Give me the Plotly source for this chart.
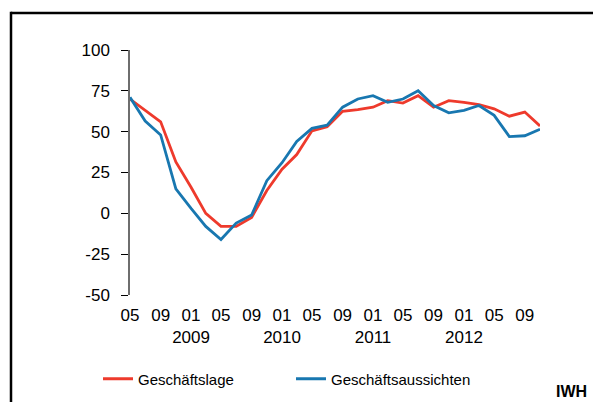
import plotly.graph_objects as go
import pandas as pd

# Data (bimonthly survey, May 2008 - Nov 2012)
months = ["2008-05-01", "2008-07-01", "2008-09-01", "2008-11-01",
          "2009-01-01", "2009-03-01", "2009-05-01", "2009-07-01", "2009-09-01", "2009-11-01",
          "2010-01-01", "2010-03-01", "2010-05-01", "2010-07-01", "2010-09-01", "2010-11-01",
          "2011-01-01", "2011-03-01", "2011-05-01", "2011-07-01", "2011-09-01", "2011-11-01",
          "2012-01-01", "2012-03-01", "2012-05-01", "2012-07-01", "2012-09-01", "2012-11-01"]
geschaeftslage = [70, 63, 56, 31.5, 16, 0, -8, -8, -2.5, 14,
                  27, 36, 50.5, 53, 62.5, 63.5, 65, 69, 67.5, 72,
                  65, 69, 68, 66.5, 64, 59.5, 62, 53.5]
geschaeftsaussichten = [71, 56.5, 48, 15, 3, -8, -16, -6, -1, 20,
                        31, 44, 52, 54, 65, 70, 72, 68, 70, 75,
                        66, 61.5, 63, 66, 60, 47, 47.5, 51.5]

tick_months = ["2008-05-01", "2008-09-01", "2009-01-01", "2009-05-01", "2009-09-01",
               "2010-01-01", "2010-05-01", "2010-09-01", "2011-01-01", "2011-05-01",
               "2011-09-01", "2012-01-01", "2012-05-01", "2012-09-01"]
tick_labels = ["05", "09", "01<br>2009", "05", "09", "01<br>2010", "05", "09",
               "01<br>2011", "05", "09", "01<br>2012", "05", "09"]
y_ticks = [-50, -25, 0, 25, 50, 75, 100]
y_labels = ["-50", "-25", "0", "25", "50", "75", "100"]

tick_marks = [d.strftime("%Y-%m-%d") for d in pd.date_range("2008-06-01", "2012-10-01", freq="2MS")]
tick_marks = [months[0]] + tick_marks + [months[-1]]

RED = "#EE3A2C"
BLUE = "#1877B0"
FONT = "Liberation Sans, Arial, sans-serif"

# page has an 8px body margin; keep the figure inside the window
OFF = 8
W, H = 601 - OFF, 410 - 2 * OFF


def px(x):
    return (x - OFF) / W


def py(y):
    return 1 - (y - OFF) / H


x_left, x_right = 130, 540
y_top, y_bot = 50, 295
xdom = [px(x_left), px(x_right)]
ydom = [py(y_bot), py(y_top)]
zero_pos = ydom[0] + (ydom[1] - ydom[0]) * (0 - (-50)) / 150
xrange = [months[0], months[-1]]

fig = go.Figure()
fig.add_trace(go.Scatter(x=months, y=geschaeftslage, mode="lines", name="Geschäftslage",
                         line=dict(color=RED, width=2.8)))
fig.add_trace(go.Scatter(x=months, y=geschaeftsaussichten, mode="lines", name="Geschäftsaussichten",
                         line=dict(color=BLUE, width=2.8)))

fig.update_layout(
    width=W, height=H, autosize=False,
    margin=dict(l=0, r=0, t=0, b=0, autoexpand=False),
    paper_bgcolor="white", plot_bgcolor="white",
    font=dict(family=FONT, color="black"),
    xaxis=dict(domain=xdom, type="date", range=xrange, tickvals=tick_months, ticktext=tick_labels,
               showline=False, ticks="", showgrid=False, zeroline=False, tickangle=0, automargin=False,
               tickfont=dict(size=17, family=FONT), ticklabelstandoff=8, anchor="y"),
    xaxis2=dict(domain=xdom, type="date", range=xrange, overlaying="x", anchor="free", position=zero_pos,
                tickvals=tick_marks, showticklabels=False, showline=True, linecolor="#6e6e6e", linewidth=1.5,
                ticks="outside", ticklen=4, tickwidth=1.2, tickcolor="black", showgrid=False, zeroline=False,
                automargin=False),
    xaxis3=dict(domain=xdom, type="date", range=xrange, overlaying="x", anchor="free", position=zero_pos,
                tickvals=tick_marks, showticklabels=False, showline=False,
                ticks="inside", ticklen=4, tickwidth=1.2, tickcolor="black", showgrid=False, zeroline=False,
                automargin=False),
    yaxis=dict(domain=ydom, range=[-50, 100], tickvals=y_ticks, ticktext=y_labels,
               showline=True, linecolor="#6e6e6e", linewidth=1.5, ticks="outside", ticklen=7,
               tickwidth=1.2, tickcolor="black", showgrid=False, zeroline=False, automargin=False,
               tickfont=dict(size=17, family=FONT), ticklabelstandoff=8, anchor="x"),
    showlegend=True,
    legend=dict(orientation="h", x=px(98), xanchor="left", y=py(379), yanchor="middle",
                font=dict(size=15, family=FONT), bgcolor="rgba(0,0,0,0)",
                entrywidth=148, entrywidthmode="pixels", traceorder="normal"),
    shapes=[
        dict(type="line", xref="paper", yref="paper", x0=px(11), x1=1.5, y0=py(13), y1=py(13),
             line=dict(color="black", width=2.5), layer="below"),
        dict(type="line", xref="paper", yref="paper", x0=px(11), x1=px(11), y0=py(13) + 0.003, y1=-0.5,
             line=dict(color="black", width=2.5), layer="below"),
    ],
    annotations=[dict(text="<b>IWH</b>", xref="paper", yref="paper", x=px(589), y=py(381),
                      xanchor="right", yanchor="top", showarrow=False,
                      font=dict(size=16, family=FONT, color="black"))],
)

fig.write_html("out.html")
